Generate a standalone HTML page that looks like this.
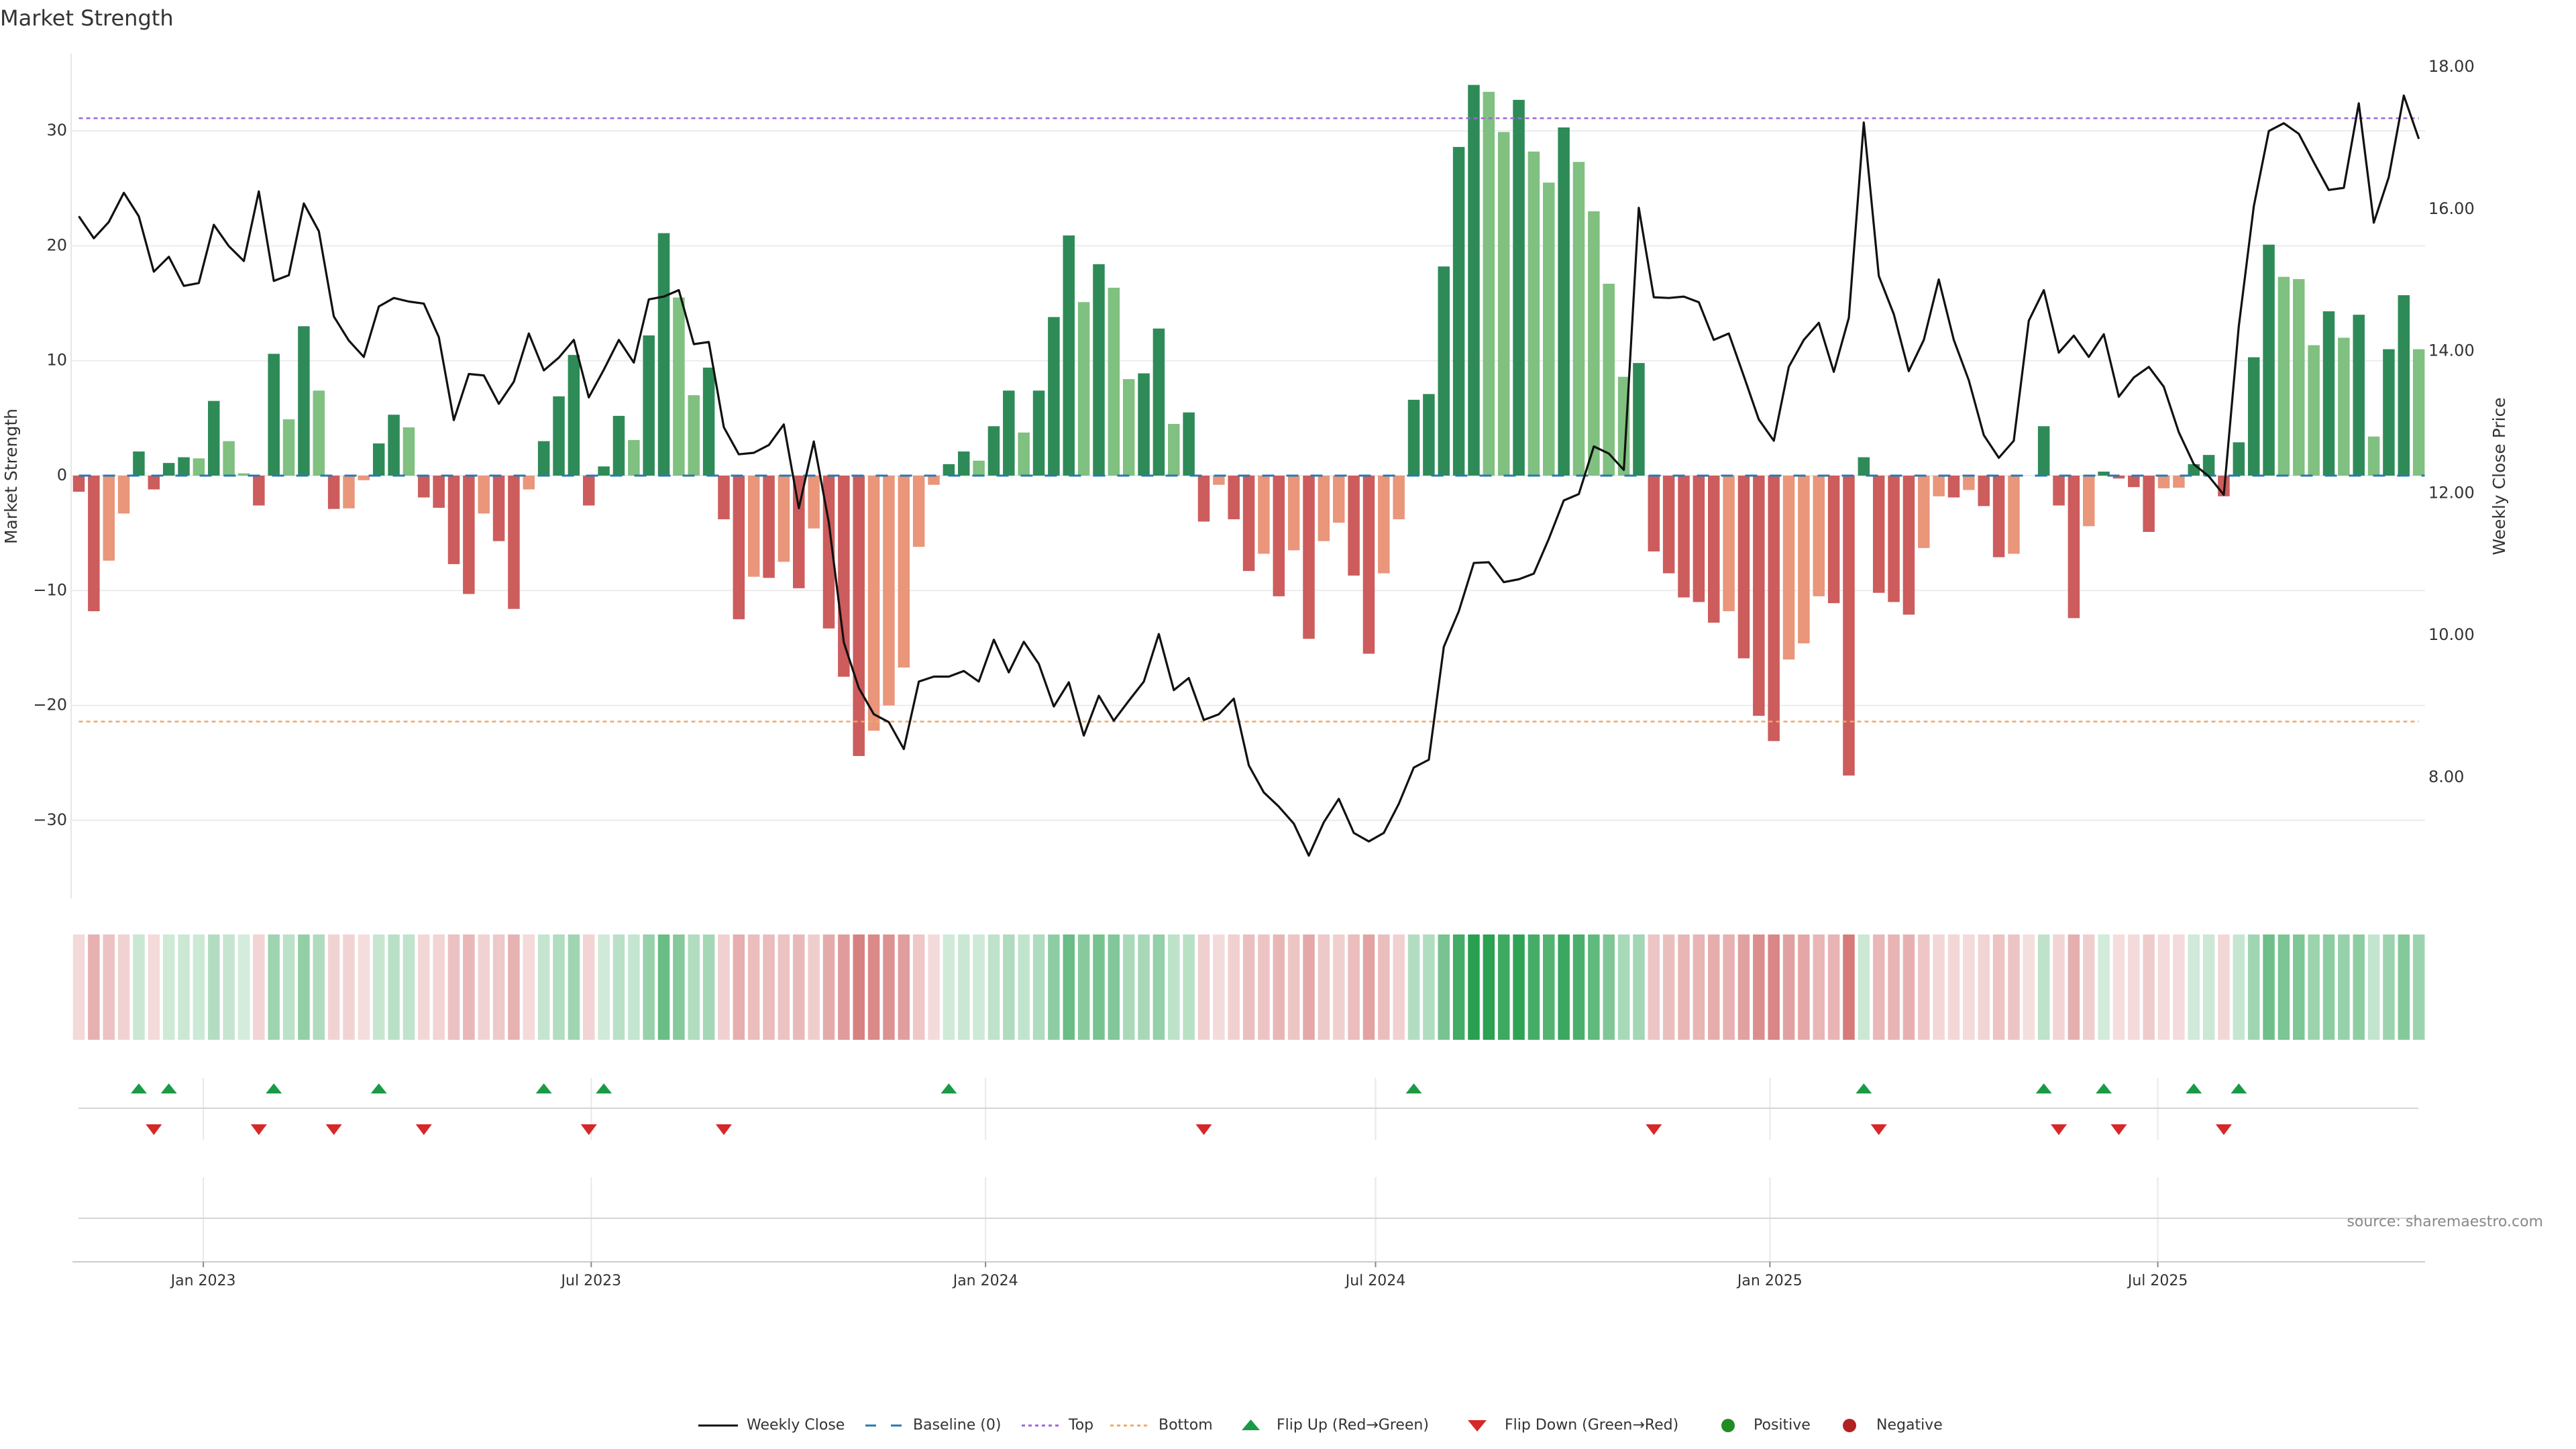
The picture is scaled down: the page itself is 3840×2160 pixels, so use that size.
<!DOCTYPE html>
<html><head><meta charset="utf-8"><title>Market Strength</title>
<style>
html,body{margin:0;padding:0;background:#fff;}
svg{display:block;font-family:"DejaVu Sans","Liberation Sans",sans-serif;}
</style></head>
<body>
<svg id="chart" xmlns="http://www.w3.org/2000/svg" width="3840" height="2160" viewBox="0 0 3840 2160">
<rect x="0" y="0" width="3840" height="2160" fill="#fff"/>
<text x="0" y="38" font-size="32" fill="#333">Market Strength</text>
<text transform="translate(18,710) rotate(-90)" text-anchor="middle" dominant-baseline="middle" font-size="25" fill="#333">Market Strength</text>
<text transform="translate(3727,710) rotate(-90)" text-anchor="middle" dominant-baseline="middle" font-size="25" fill="#333">Weekly Close Price</text>
<g id="grid"></g>
<g id="bars"></g>
<g id="refs"></g>
<g id="price"></g>
<g id="heat"></g>
<g id="flips"></g>
<g id="xaxis"></g>
<text x="3791" y="1828" text-anchor="end" font-size="22" fill="#888">source: sharemaestro.com</text>
<g id="legend"></g>
</svg>
<script>
const strength = [
-1.4,-11.8,-7.4,-3.3,2.1,-1.2,1.1,1.6,1.5,6.5,
3.0,0.2,-2.6,10.6,4.9,13.0,7.4,-2.9,-2.85,-0.4,
2.8,5.3,4.2,-1.9,-2.8,-7.7,-10.3,-3.3,-5.7,-11.6,
-1.2,3.0,6.9,10.5,-2.6,0.8,5.2,3.1,12.2,21.1,
15.5,7.0,9.4,-3.8,-12.5,-8.8,-8.9,-7.5,-9.8,-4.6,
-13.3,-17.5,-24.4,
-22.2,-20.0,-16.7,-6.2,-0.8,1.0,2.1,1.3,4.3,7.4,
3.75,7.4,13.8,20.9,15.1,18.4,16.35,8.4,8.9,12.8,
4.5,5.5,-4.0,-0.8,-3.8,-8.3,-6.8,-10.5,-6.5,-14.2,
-5.7,-4.1,-8.7,-15.5,-8.5,-3.8,6.6,7.1,18.2,28.6,
34.0,33.4,29.9,32.7,28.2,25.5,30.3,27.3,23.0,16.7,
8.6,9.8,-6.6,-8.5,-10.6,-11.0,
-12.8,-11.8,-15.9,-20.9,-23.1,-16.0,-14.6,-10.5,-11.1,-26.1,
1.6,-10.2,-11.0,-12.1,-6.3,-1.8,-1.9,-1.25,-2.65,-7.1,
-6.8,0,4.3,-2.6,-12.4,-4.4,0.35,-0.25,-1.0,-4.9,
-1.1,-1.05,1.0,1.8,-1.8,2.9,10.3,20.1,17.3,17.1,
11.35,14.3,12.0,14.0,3.4,11.0,15.7,11.0];
const closes = [
15.90,15.59,15.82,16.23,15.90,15.12,15.33,14.92,14.96,15.78,
15.48,15.27,16.25,14.99,15.07,16.08,15.69,14.49,14.15,13.92,
14.63,14.75,14.70,14.67,14.20,13.03,13.68,13.66,13.26,13.57,
14.25,13.73,13.91,14.16,13.35,13.74,14.16,13.84,14.73,14.77,
14.86,14.10,14.13,12.93,12.55,12.57,12.68,12.97,11.79,12.73,
11.59,9.90,9.26,
8.89,8.78,8.40,9.35,9.42,9.42,9.50,9.35,9.94,9.48,
9.91,9.60,9.00,9.34,8.59,9.15,8.80,9.08,9.35,10.02,
9.23,9.40,8.81,8.89,9.11,8.17,7.79,7.59,7.35,6.90,
7.37,7.70,7.22,7.10,7.22,7.63,8.14,8.25,9.84,10.34,
11.02,11.03,10.75,10.79,10.87,11.36,11.90,11.99,12.66,12.56,
12.33,16.02,14.76,14.75,14.77,14.69,
14.16,14.25,13.65,13.04,12.74,13.78,14.16,14.40,13.71,14.47,
17.22,15.06,14.52,13.72,14.16,15.01,14.16,13.59,12.82,12.50,
12.74,14.43,14.86,13.98,14.22,13.92,14.24,13.36,13.63,13.78,
13.50,12.86,12.41,12.24,11.98,14.35,16.04,17.10,17.21,17.06,
16.66,16.27,16.30,17.49,15.81,16.45,17.60,16.99];
const leftTicks = [-30,-20,-10,0,10,20,30];
const rightTicks = [8,10,12,14,16,18];
const dateTickLabels = ["Jan 2023","Jul 2023","Jan 2024","Jul 2024","Jan 2025","Jul 2025"];
const dateTickIndex = [8.3,34.16,60.45,86.45,112.74,138.6];
const topLevel = [31.1];
const bottomLevel = [-21.4];

const NS="http://www.w3.org/2000/svg";
function mk(tag, attrs, parent){const e=document.createElementNS(NS,tag);for(const k in attrs)e.setAttribute(k,attrs[k]);parent.appendChild(e);return e;}
const X0=117.5, DX=22.36, PL=106, PR=3615;
const xS = i => X0 + i*DX;
const yS = v => 709 - v*17.13;
const yP = p => 100 + (18-p)*105.9;
const BW=17.5;

const grid=document.getElementById('grid');
mk('line',{x1:PL,y1:80,x2:PL,y2:1339,stroke:'#e6e6e6','stroke-width':2},grid);
leftTicks.forEach(t=>{
  const gl=mk('line',{x1:PL,x2:PR,y1:yS(t),y2:yS(t),stroke:'#ececec','stroke-width':2},grid);
  
  
  const tx=mk('text',{x:100,y:yS(t),'text-anchor':'end','dominant-baseline':'middle','font-size':24,fill:'#333'},grid);
  tx.textContent=(t<0?'\u2212'+Math.abs(t):String(t));
  
  
});
rightTicks.forEach(t=>{
  const tx=mk('text',{x:3620,y:yP(t),'dominant-baseline':'middle','font-size':24,fill:'#333'},grid);
  tx.textContent=t.toFixed(2);
  
  
});

const bars=document.getElementById('bars');
function barColor(i){
  const v=strength[i], p=i>0?strength[i-1]:null;
  if(v>=0){ return (p===null||v>=p)?'#2e8b57':'#80c080'; }
  return (p===null||v<=p)?'#cd5c5c':'#e9967a';
}
strength.forEach((v,i)=>{
  const y=Math.min(yS(v),yS(0)), h=Math.abs(yS(v)-yS(0));
  const r=mk('rect',{x:xS(i)-BW/2,y:y,width:BW,height:h,fill:barColor(i)},bars);
  
  
});

const refs=document.getElementById('refs');
const bl=mk('line',{x1:xS(0),x2:xS(strength.length-1)+BW/2,y1:yS(0),y2:yS(0),stroke:'#2a78b0','stroke-width':3,'stroke-dasharray':'18 18'},refs);


const tl=mk('line',{x1:xS(0),x2:xS(strength.length-1),y1:yS(topLevel[0]),y2:yS(topLevel[0]),stroke:'#a064e0','stroke-width':2.5,'stroke-dasharray':'6 5'},refs);


const bt=mk('line',{x1:xS(0),x2:xS(strength.length-1),y1:yS(bottomLevel[0]),y2:yS(bottomLevel[0]),stroke:'#f0a868','stroke-width':2.5,'stroke-dasharray':'6 5'},refs);



const pg=document.getElementById('price');
const pts=closes.map((p,i)=>xS(i).toFixed(1)+','+yP(p).toFixed(1)).join(' ');
const pl=mk('polyline',{points:pts,fill:'none',stroke:'#111','stroke-width':3.2,'stroke-linejoin':'round'},pg);



const heat=document.getElementById('heat');
strength.forEach((v,i)=>{
  const a=Math.min(1,0.2+0.8*Math.abs(v)/34);
  const base=v>0?[40,160,80]:[205,92,92];
  const c=base.map(b=>Math.round(255-a*(255-b)));
  const r=mk('rect',{x:xS(i)-BW/2,y:1393,width:BW,height:157,fill:'rgb('+c.join(',')+')'},heat);
  
  
});

const fl=document.getElementById('flips');
dateTickIndex.forEach(ti=>{
  const x=xS(ti);
  mk('line',{x1:x,x2:x,y1:1607,y2:1699,stroke:'#e8e8e8','stroke-width':2},fl);
  mk('line',{x1:x,x2:x,y1:1755,y2:1881,stroke:'#e8e8e8','stroke-width':2},fl);
});
mk('line',{x1:117,x2:3605,y1:1652,y2:1652,stroke:'#d4d4d4','stroke-width':2},fl);
mk('line',{x1:117,x2:3605,y1:1816,y2:1816,stroke:'#d4d4d4','stroke-width':2},fl);
for(let i=1;i<strength.length;i++){
  const x=xS(i);
  if(strength[i]>0 && strength[i-1]<=0){
    const t=mk('polygon',{points:`${x-12},1630 ${x+12},1630 ${x},1615`,fill:'#1a9a45'},fl);
    
    
  } else if(strength[i]<=0 && strength[i-1]>0){
    const t=mk('polygon',{points:`${x-12},1676 ${x+12},1676 ${x},1692`,fill:'#d62828'},fl);
    
    
  }
}

const xa=document.getElementById('xaxis');
mk('line',{x1:108,x2:PR,y1:1881,y2:1881,stroke:'#ccc','stroke-width':2},xa);
dateTickLabels.forEach((lab,j)=>{
  const x=xS(dateTickIndex[j]);
  mk('line',{x1:x,x2:x,y1:1881,y2:1889,stroke:'#888','stroke-width':2},xa);
  const t=mk('text',{x:x,y:1916,'text-anchor':'middle','font-size':22,fill:'#333'},xa);
  t.textContent=lab;
  
  
});

const lg=document.getElementById('legend');
const LY=2125;
function ltext(x,s){const t=mk('text',{x:x,y:LY,'dominant-baseline':'middle','font-size':22,fill:'#333'},lg);t.textContent=s;return t;}
mk('line',{x1:1041,x2:1100,y1:LY,y2:LY,stroke:'#111','stroke-width':3},lg);
ltext(1113,'Weekly Close');
mk('line',{x1:1290,x2:1345,y1:LY,y2:LY,stroke:'#2a78b0','stroke-width':3,'stroke-dasharray':'16 22'},lg);
ltext(1361,'Baseline (0)');
mk('line',{x1:1523,x2:1578,y1:LY,y2:LY,stroke:'#a064e0','stroke-width':3,'stroke-dasharray':'5 5'},lg);
ltext(1593,'Top');
mk('line',{x1:1655,x2:1710,y1:LY,y2:LY,stroke:'#f0a868','stroke-width':3,'stroke-dasharray':'5 5'},lg);
ltext(1727,'Bottom');
mk('polygon',{points:'1851,2132 1878,2132 1864.5,2116',fill:'#1a9a45'},lg);
ltext(1903,'Flip Up (Red\u2192Green)');
mk('polygon',{points:'2188,2117 2216,2117 2202,2134',fill:'#d62828'},lg);
ltext(2243,'Flip Down (Green\u2192Red)');
mk('circle',{cx:2576,cy:LY,r:10,fill:'#228b22'},lg);
ltext(2614,'Positive');
mk('circle',{cx:2757,cy:LY,r:10,fill:'#b22222'},lg);
ltext(2797,'Negative');
</script>
</body></html>
